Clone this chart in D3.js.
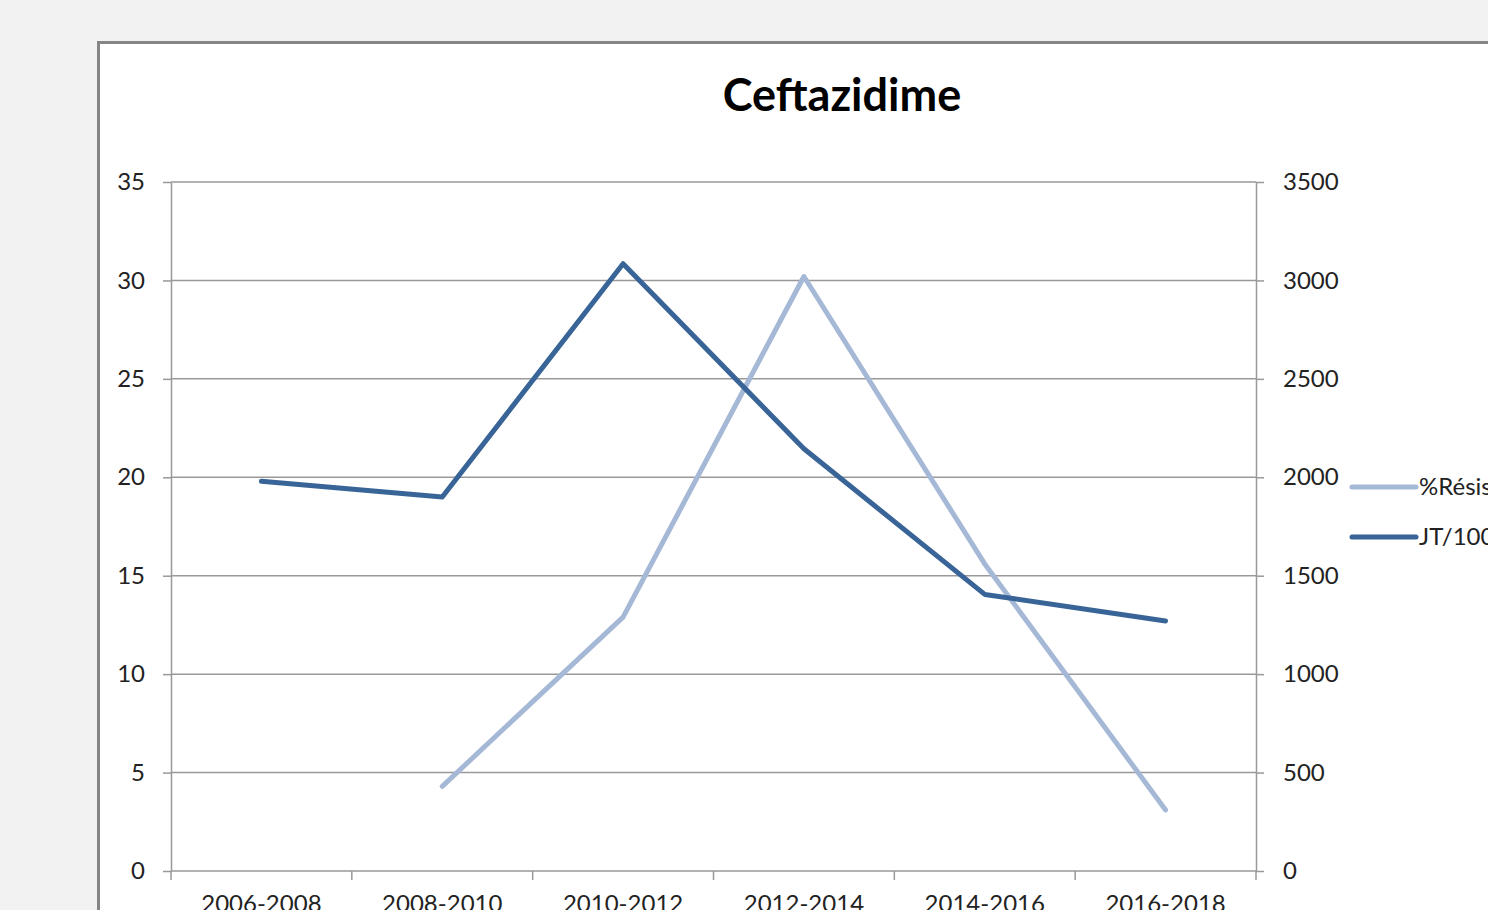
<!DOCTYPE html>
<html>
<head>
<meta charset="utf-8">
<script src="https://cdn.jsdelivr.net/npm/d3@7"></script>
<style>
  body { margin: 0; background: #f2f2f2; overflow: hidden; }
  svg { display: block; }
</style>
</head>
<body>
<div id="chart"></div>
<script>
const categories = ["2006-2008", "2008-2010", "2010-2012", "2012-2014", "2014-2016", "2016-2018"];
const resistance = [null, 4.3, 12.9, 30.2, 15.6, 3.1];
const consumption = [1980, 1900, 3085, 2145, 1405, 1270];
const leftTicks = [0, 5, 10, 15, 20, 25, 30, 35];
const rightTicks = [0, 500, 1000, 1500, 2000, 2500, 3000, 3500];
const seriesNames = ["%Résistance", "JT/1000 JH"];

const width = 1488, height = 910;
const margin = { top: 182, right: 232, bottom: 39, left: 171 };
const font = "Lato, 'Open Sans', sans-serif";
const lightColor = "#a5b8d6";
const darkColor = "#396497";

const svg = d3.select("#chart").append("svg")
  .attr("width", width)
  .attr("height", height);

// chart frame
svg.append("rect")
  .attr("x", 98.5).attr("y", 42.5)
  .attr("width", 1500).attr("height", 1000)
  .attr("fill", "#fff")
  .attr("stroke", "#858585")
  .attr("stroke-width", 3);

svg.append("text")
  .attr("x", 842).attr("y", 111)
  .attr("text-anchor", "middle")
  .attr("font-family", font)
  .attr("font-weight", "bold")
  .attr("font-size", 45)
  .text("Ceftazidime");

const x = d3.scaleBand()
  .domain(categories)
  .range([margin.left, width - margin.right]);

const yL = d3.scaleLinear().domain([0, 35]).range([height - margin.bottom, margin.top]);
const yR = d3.scaleLinear().domain([0, 3500]).range([height - margin.bottom, margin.top]);

// gridlines
svg.append("g")
  .selectAll("line")
  .data(leftTicks.slice(1))
  .join("line")
  .attr("x1", margin.left).attr("x2", width - margin.right)
  .attr("y1", d => yL(d)).attr("y2", d => yL(d))
  .attr("stroke", "#999")
  .attr("stroke-width", 1.5);

function styleAxis(g) {
  g.select(".domain").attr("stroke", "#999").attr("stroke-width", 1.5);
  g.selectAll(".tick line").attr("stroke", "#999").attr("stroke-width", 1.5);
  g.selectAll("text")
    .attr("font-family", font)
    .attr("font-size", 24)
    .attr("fill", "#222");
}

svg.append("g")
  .attr("transform", `translate(${margin.left},0)`)
  .call(d3.axisLeft(yL).tickValues(leftTicks).tickSize(8).tickPadding(18).tickSizeOuter(0))
  .call(styleAxis);

svg.append("g")
  .attr("transform", `translate(${width - margin.right},0)`)
  .call(d3.axisRight(yR).tickValues(rightTicks).tickFormat(d3.format("d"))
    .tickSize(8).tickPadding(19).tickSizeOuter(0))
  .call(styleAxis);

const xAxis = svg.append("g")
  .attr("transform", `translate(0,${height - margin.bottom})`)
  .call(d3.axisBottom(x).tickSize(0).tickPadding(24))
  .call(styleAxis);
xAxis.select(".domain").attr("d", `M${margin.left},0H${width - margin.right}`);

// category separator ticks
const edges = categories.map(c => x(c)).concat([x.range()[1]]);
svg.append("g")
  .selectAll("line")
  .data(edges)
  .join("line")
  .attr("x1", d => d).attr("x2", d => d)
  .attr("y1", height - margin.bottom).attr("y2", height - margin.bottom + 9)
  .attr("stroke", "#999")
  .attr("stroke-width", 1.5);

const cx = c => x(c) + x.bandwidth() / 2;

const lineL = d3.line()
  .defined(d => d.v != null)
  .x(d => cx(d.c))
  .y(d => yL(d.v));
const lineR = d3.line()
  .x(d => cx(d.c))
  .y(d => yR(d.v));

svg.append("path")
  .datum(categories.map((c, i) => ({ c, v: resistance[i] })))
  .attr("d", lineL)
  .attr("fill", "none")
  .attr("stroke", lightColor)
  .attr("stroke-width", 5)
  .attr("stroke-linecap", "round")
  .attr("stroke-linejoin", "round");

svg.append("path")
  .datum(categories.map((c, i) => ({ c, v: consumption[i] })))
  .attr("d", lineR)
  .attr("fill", "none")
  .attr("stroke", darkColor)
  .attr("stroke-width", 5)
  .attr("stroke-linecap", "round")
  .attr("stroke-linejoin", "round");

// legend
const legend = svg.append("g")
  .selectAll("g")
  .data(seriesNames)
  .join("g")
  .attr("transform", (d, i) => `translate(1352,${487 + i * 50})`);
legend.append("line")
  .attr("x1", 0).attr("x2", 64)
  .attr("stroke", (d, i) => i === 0 ? lightColor : darkColor)
  .attr("stroke-width", 5)
  .attr("stroke-linecap", "round");
legend.append("text")
  .attr("x", 67).attr("y", 8)
  .attr("font-family", font)
  .attr("font-size", 24)
  .attr("fill", "#222")
  .text(d => d);
</script>
</body>
</html>
